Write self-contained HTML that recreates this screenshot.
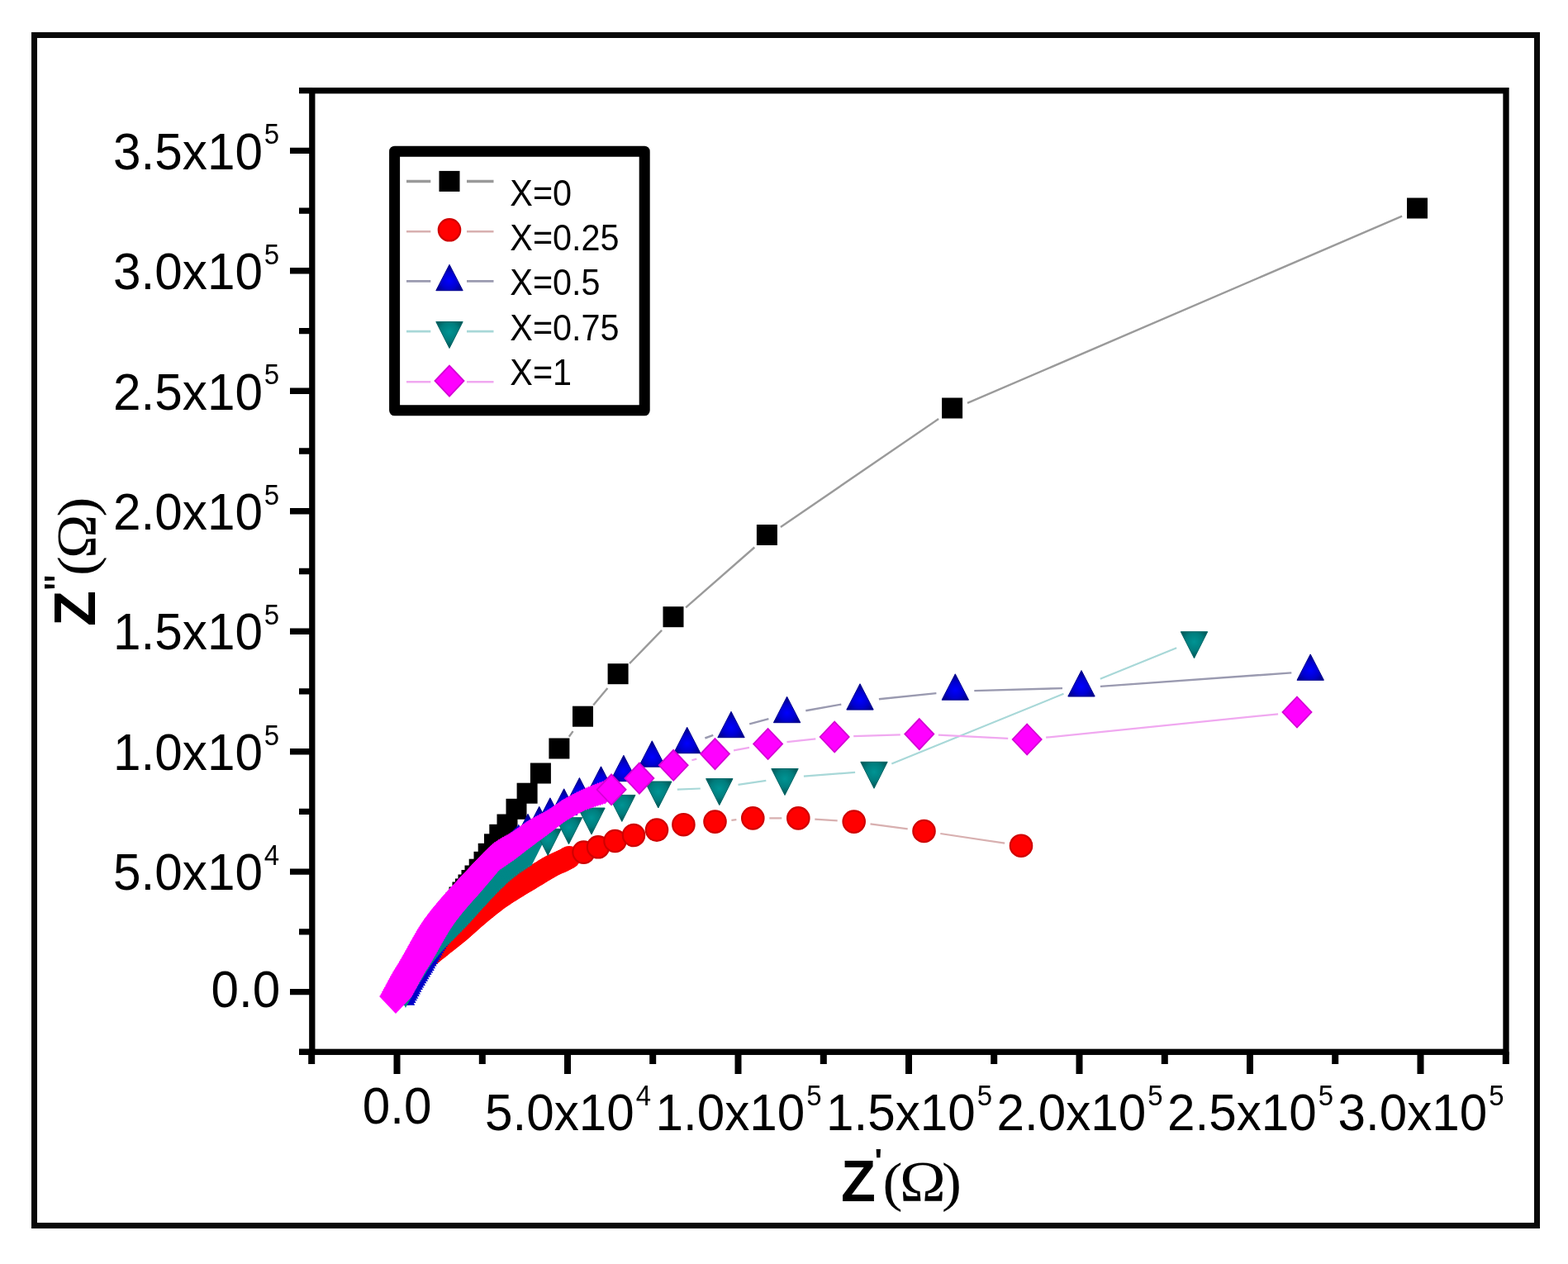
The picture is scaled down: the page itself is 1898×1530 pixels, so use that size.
<!DOCTYPE html>
<html><head><meta charset="utf-8"><style>
html,body{margin:0;padding:0;background:#fff;}
svg{display:block;}
.t{font-family:"Liberation Sans",Arial,sans-serif;font-size:63.4px;fill:#000;}
.s{font-size:34.7px;}
.lg{font-family:"Liberation Sans",Arial,sans-serif;font-size:44.5px;fill:#000;}
.tb{font-family:"Liberation Sans",Arial,sans-serif;font-size:70.8px;font-weight:bold;fill:#000;}
.pr{font-family:"Liberation Sans",Arial,sans-serif;font-size:40px;font-weight:bold;fill:#000;}
.sr{font-family:"Liberation Serif","Times New Roman",serif;font-weight:normal;font-size:68px;fill:#000;}
</style></head><body>
<svg width="1898" height="1530" viewBox="0 0 1898 1530">
<defs>
<radialGradient id="gb" cx="50%" cy="62%" r="55%"><stop offset="0" stop-color="#0000ff"/><stop offset="0.55" stop-color="#0000d0"/><stop offset="1" stop-color="#000088"/></radialGradient>
<radialGradient id="gt" cx="50%" cy="38%" r="55%"><stop offset="0" stop-color="#009494"/><stop offset="0.6" stop-color="#007d7d"/><stop offset="1" stop-color="#005a5a"/></radialGradient>
</defs>
<rect width="1898" height="1530" fill="#fff"/>
<rect x="41.5" y="42.5" width="1819" height="1441" fill="none" stroke="#080808" stroke-width="7"/>
<path d="M351 1200.6H377.8 M351 1055.1H377.8 M351 909.7H377.8 M351 764.2H377.8 M351 618.8H377.8 M351 473.3H377.8 M351 327.8H377.8 M351 182.4H377.8 M362 1273.3H377.8 M362 1127.9H377.8 M362 982.4H377.8 M362 836.9H377.8 M362 691.5H377.8 M362 546H377.8 M362 400.6H377.8 M362 255.1H377.8 M362 109.6H377.8" stroke="#000" stroke-width="7.4" fill="none"/>
<path d="M480.5 1273.3V1300 M687 1273.3V1300 M893.5 1273.3V1300 M1100 1273.3V1300 M1306.5 1273.3V1300 M1513 1273.3V1300 M1719.5 1273.3V1300 M377.2 1273.3V1288 M583.8 1273.3V1288 M790.2 1273.3V1288 M996.8 1273.3V1288 M1203.2 1273.3V1288 M1409.8 1273.3V1288 M1616.2 1273.3V1288 M1822.8 1273.3V1288" stroke="#000" stroke-width="8" fill="none"/>
<rect x="377.8" y="109.7" width="1445.2" height="1163.6" fill="none" stroke="#000" stroke-width="7.3"/>
<text transform="translate(338.1 204.6) scale(0.95 1)" text-anchor="end" class="t">3.5x10<tspan class="s" dx="2" dy="-30.4">5</tspan></text>
<text transform="translate(338.1 350) scale(0.95 1)" text-anchor="end" class="t">3.0x10<tspan class="s" dx="2" dy="-30.4">5</tspan></text>
<text transform="translate(338.1 495.5) scale(0.95 1)" text-anchor="end" class="t">2.5x10<tspan class="s" dx="2" dy="-30.4">5</tspan></text>
<text transform="translate(338.1 641) scale(0.95 1)" text-anchor="end" class="t">2.0x10<tspan class="s" dx="2" dy="-30.4">5</tspan></text>
<text transform="translate(338.1 786.4) scale(0.95 1)" text-anchor="end" class="t">1.5x10<tspan class="s" dx="2" dy="-30.4">5</tspan></text>
<text transform="translate(338.1 931.9) scale(0.95 1)" text-anchor="end" class="t">1.0x10<tspan class="s" dx="2" dy="-30.4">5</tspan></text>
<text transform="translate(338.1 1077.3) scale(0.95 1)" text-anchor="end" class="t">5.0x10<tspan class="s" dx="2" dy="-30.4">4</tspan></text>
<text transform="translate(339.3 1218.5) scale(0.95 1)" text-anchor="end" class="t">0.0</text>
<text transform="translate(480.7 1360.2) scale(0.95 1)" text-anchor="middle" class="t">0.0</text>
<text transform="translate(687.5 1368.4) scale(0.95 1)" text-anchor="middle" class="t">5.0x10<tspan class="s" dx="2" dy="-30.4">4</tspan></text>
<text transform="translate(894 1368.4) scale(0.95 1)" text-anchor="middle" class="t">1.0x10<tspan class="s" dx="2" dy="-30.4">5</tspan></text>
<text transform="translate(1100.5 1368.4) scale(0.95 1)" text-anchor="middle" class="t">1.5x10<tspan class="s" dx="2" dy="-30.4">5</tspan></text>
<text transform="translate(1307 1368.4) scale(0.95 1)" text-anchor="middle" class="t">2.0x10<tspan class="s" dx="2" dy="-30.4">5</tspan></text>
<text transform="translate(1513.5 1368.4) scale(0.95 1)" text-anchor="middle" class="t">2.5x10<tspan class="s" dx="2" dy="-30.4">5</tspan></text>
<text transform="translate(1720 1368.4) scale(0.95 1)" text-anchor="middle" class="t">3.0x10<tspan class="s" dx="2" dy="-30.4">5</tspan></text>
<text transform="translate(1018 1453.5) scale(0.969 1)" class="tb">Z</text>
<text transform="translate(1058.5 1418.9)" class="pr">'</text>
<text transform="translate(1068.45 1452.9) scale(1.1 1)" class="sr" style="font-size:65.2px">(</text>
<text transform="translate(1089.1 1453.5) scale(1.093 1)" class="sr" style="font-size:68.7px">Ω</text>
<text transform="translate(1140 1452.9) scale(1.1 1)" class="sr" style="font-size:65.2px">)</text>
<text transform="translate(115.2 757.9) rotate(-90)" class="tb" style="font-size:70.4px">Z</text>
<text transform="translate(86.9 714.8) rotate(-90) scale(1 1.22)" class="pr">''</text>
<text transform="translate(114.9 696.9) rotate(-90) scale(1.09 1)" class="sr" style="font-size:65.6px">(</text>
<text transform="translate(115.2 675.9) rotate(-90) scale(1.048 1)" class="sr" style="font-size:68.3px">Ω</text>
<text transform="translate(114.9 625.4) rotate(-90) scale(1.09 1)" class="sr" style="font-size:65.6px">)</text>
<path d="M688.8 891.7L693.6 885.1 M718.2 853.6L735.4 832.9 M762 803.1L801.1 762.9 M830.1 735.3L913.3 662.5 M944.9 638L1136.1 507.1 M1171 487.9L1697.1 261.7" stroke="#9a9a9a" stroke-width="2.4" fill="none"/>
<g fill="#000"><rect x="470.5" y="1191.5" width="25" height="25"/><rect x="475.5" y="1185.5" width="25" height="25"/><rect x="479.5" y="1178.5" width="25" height="25"/><rect x="483.5" y="1171.5" width="25" height="25"/><rect x="487.5" y="1164.5" width="25" height="25"/><rect x="491.5" y="1158.5" width="25" height="25"/><rect x="495.5" y="1151.5" width="25" height="25"/><rect x="499.5" y="1145.5" width="25" height="25"/><rect x="503.5" y="1138.5" width="25" height="25"/><rect x="507.5" y="1132.5" width="25" height="25"/><rect x="511.5" y="1125.5" width="25" height="25"/><rect x="515.5" y="1119.5" width="25" height="25"/><rect x="519.5" y="1112.5" width="25" height="25"/><rect x="523.5" y="1106.5" width="25" height="25"/><rect x="527.5" y="1099.5" width="25" height="25"/><rect x="531.5" y="1093.5" width="25" height="25"/><rect x="535.5" y="1086.5" width="25" height="25"/><rect x="539.5" y="1080.5" width="25" height="25"/><rect x="543.5" y="1073.5" width="25" height="25"/><rect x="547.5" y="1067.5" width="25" height="25"/><rect x="551" y="1063.5" width="25" height="25"/><rect x="554.5" y="1058.5" width="25" height="25"/><rect x="558.5" y="1053" width="25" height="25"/><rect x="562.5" y="1047.5" width="25" height="25"/><rect x="567.7" y="1039.7" width="25" height="25"/><rect x="573.5" y="1030.8" width="25" height="25"/><rect x="578.7" y="1020.8" width="25" height="25"/></g>
<g fill="#000"><rect x="586" y="1009.3" width="25" height="25"/><rect x="592.3" y="997.8" width="25" height="25"/><rect x="601.5" y="985.5" width="25" height="25"/><rect x="612.5" y="966.8" width="25" height="25"/><rect x="625.6" y="947.7" width="25" height="25"/><rect x="641.9" y="923.5" width="25" height="25"/><rect x="664.4" y="893.5" width="25" height="25"/><rect x="693" y="854.7" width="25" height="25"/><rect x="735.6" y="803.2" width="25" height="25"/><rect x="802.5" y="734.2" width="25" height="25"/><rect x="915.9" y="635" width="25" height="25"/><rect x="1140.1" y="481.5" width="25" height="25"/><rect x="1703" y="239.5" width="25" height="25"/></g>
<path d="M885.4 992.8L891.4 992.2 M931.3 990.4L946.3 990.4 M986.3 991.6L1013.7 993.4 M1053.5 997.3L1098.7 1003.3 M1138.3 1009L1216.2 1020.7" stroke="#d8b0b0" stroke-width="2.2" fill="none"/>
<g fill="#ff0000"><circle cx="483" cy="1203" r="13.7"/><circle cx="484.9" cy="1200.7" r="13.7"/><circle cx="486.8" cy="1198.4" r="13.7"/><circle cx="488.7" cy="1196" r="13.7"/><circle cx="490.6" cy="1193.7" r="13.7"/><circle cx="492.5" cy="1191.4" r="13.7"/><circle cx="494.5" cy="1189.1" r="13.7"/><circle cx="496.4" cy="1186.9" r="13.7"/><circle cx="498.4" cy="1184.6" r="13.7"/><circle cx="500.3" cy="1182.2" r="13.7"/><circle cx="502.1" cy="1179.9" r="13.7"/><circle cx="503.8" cy="1177.4" r="13.7"/><circle cx="505.5" cy="1174.9" r="13.7"/><circle cx="507.1" cy="1172.4" r="13.7"/><circle cx="508.7" cy="1169.8" r="13.7"/><circle cx="510.3" cy="1167.3" r="13.7"/><circle cx="512.1" cy="1164.9" r="13.7"/><circle cx="513.9" cy="1162.5" r="13.7"/><circle cx="515.9" cy="1160.3" r="13.7"/><circle cx="518" cy="1158.1" r="13.7"/><circle cx="520.2" cy="1156.1" r="13.7"/><circle cx="522.5" cy="1154.2" r="13.7"/><circle cx="524.8" cy="1152.3" r="13.7"/><circle cx="527.2" cy="1150.4" r="13.7"/><circle cx="529.6" cy="1148.6" r="13.7"/><circle cx="531.9" cy="1146.7" r="13.7"/><circle cx="534.2" cy="1144.8" r="13.7"/><circle cx="536.6" cy="1142.9" r="13.7"/><circle cx="538.9" cy="1141.1" r="13.7"/><circle cx="541.3" cy="1139.2" r="13.7"/><circle cx="543.6" cy="1137.3" r="13.7"/><circle cx="546" cy="1135.5" r="13.7"/><circle cx="548.3" cy="1133.6" r="13.7"/><circle cx="550.7" cy="1131.7" r="13.7"/><circle cx="553" cy="1129.9" r="13.7"/><circle cx="555.3" cy="1128" r="13.7"/><circle cx="557.6" cy="1126" r="13.7"/><circle cx="559.9" cy="1124.1" r="13.7"/><circle cx="562.1" cy="1122.1" r="13.7"/><circle cx="564.4" cy="1120.1" r="13.7"/><circle cx="566.6" cy="1118.1" r="13.7"/><circle cx="568.9" cy="1116.1" r="13.7"/><circle cx="571.1" cy="1114.1" r="13.7"/><circle cx="573.3" cy="1112.1" r="13.7"/><circle cx="575.6" cy="1110.1" r="13.7"/><circle cx="577.8" cy="1108.2" r="13.7"/><circle cx="580.1" cy="1106.2" r="13.7"/><circle cx="582.4" cy="1104.3" r="13.7"/><circle cx="584.8" cy="1102.4" r="13.7"/><circle cx="587.1" cy="1100.5" r="13.7"/><circle cx="589.4" cy="1098.6" r="13.7"/><circle cx="591.7" cy="1096.7" r="13.7"/><circle cx="594.1" cy="1094.8" r="13.7"/><circle cx="596.5" cy="1093" r="13.7"/><circle cx="598.8" cy="1091.2" r="13.7"/><circle cx="601.2" cy="1089.4" r="13.7"/><circle cx="603.7" cy="1087.6" r="13.7"/><circle cx="606.1" cy="1085.9" r="13.7"/><circle cx="608.6" cy="1084.2" r="13.7"/><circle cx="611.1" cy="1082.5" r="13.7"/><circle cx="613.6" cy="1080.9" r="13.7"/><circle cx="616.1" cy="1079.3" r="13.7"/><circle cx="618.7" cy="1077.7" r="13.7"/><circle cx="621.2" cy="1076.1" r="13.7"/><circle cx="623.8" cy="1074.5" r="13.7"/><circle cx="626.3" cy="1073" r="13.7"/><circle cx="628.9" cy="1071.4" r="13.7"/><circle cx="631.4" cy="1069.8" r="13.7"/><circle cx="634" cy="1068.3" r="13.7"/><circle cx="636.6" cy="1066.7" r="13.7"/><circle cx="639.2" cy="1065.2" r="13.7"/><circle cx="641.7" cy="1063.7" r="13.7"/><circle cx="644.3" cy="1062.1" r="13.7"/><circle cx="646.9" cy="1060.6" r="13.7"/><circle cx="649.5" cy="1059.1" r="13.7"/><circle cx="652" cy="1057.5" r="13.7"/><circle cx="654.6" cy="1055.9" r="13.7"/><circle cx="657.2" cy="1054.4" r="13.7"/><circle cx="659.7" cy="1052.8" r="13.7"/><circle cx="662.3" cy="1051.3" r="13.7"/><circle cx="664.9" cy="1049.8" r="13.7"/><circle cx="667.5" cy="1048.3" r="13.7"/><circle cx="670.2" cy="1046.9" r="13.7"/><circle cx="672.9" cy="1045.6" r="13.7"/><circle cx="675.6" cy="1044.4" r="13.7"/><circle cx="678.4" cy="1043.2" r="13.7"/><circle cx="681.1" cy="1042" r="13.7"/><circle cx="683.8" cy="1040.6" r="13.7"/><circle cx="686.4" cy="1039.2" r="13.7"/><circle cx="689" cy="1037.7" r="13.7"/></g>
<g fill="#ff0000" stroke="#d00000" stroke-width="2.2"><circle cx="706.5" cy="1031.6" r="13.2"/><circle cx="724" cy="1025.3" r="13.2"/><circle cx="744.5" cy="1018" r="13.2"/><circle cx="767" cy="1011" r="13.2"/><circle cx="795" cy="1004.6" r="13.2"/><circle cx="827.4" cy="998.2" r="13.2"/><circle cx="865.5" cy="994.6" r="13.2"/><circle cx="911.3" cy="990.4" r="13.2"/><circle cx="966.3" cy="990.4" r="13.2"/><circle cx="1033.7" cy="994.6" r="13.2"/><circle cx="1118.5" cy="1006" r="13.2"/><circle cx="1236" cy="1023.7" r="13.2"/></g>
<path d="M853.4 893.5L863.3 889.9 M907.2 876.3L930.4 870.1 M975.3 860.2L1018.3 852.6 M1063.9 846.2L1133.4 839.1 M1179.3 836.1L1286 833.1 M1331.9 830.9L1563.3 814.4" stroke="#9a9ab0" stroke-width="2.4" fill="none"/>
<g fill="#0000c8"><path d="M486 1185.3L502.2 1216.7H469.8Z"/><path d="M487.3 1182.6L503.5 1214H471.1Z"/><path d="M488.7 1179.9L504.9 1211.3H472.5Z"/><path d="M490.1 1177.3L506.3 1208.7H473.9Z"/><path d="M491.5 1174.6L507.7 1206H475.3Z"/><path d="M492.8 1172L509 1203.4H476.6Z"/><path d="M494.2 1169.3L510.4 1200.7H478Z"/><path d="M495.7 1166.7L511.9 1198.1H479.5Z"/><path d="M497.1 1164L513.3 1195.4H480.9Z"/><path d="M498.7 1161.5L514.9 1192.9H482.5Z"/><path d="M500.2 1158.9L516.4 1190.3H484Z"/><path d="M501.8 1156.3L518 1187.7H485.6Z"/><path d="M503.3 1153.8L519.5 1185.2H487.1Z"/><path d="M504.9 1151.2L521.1 1182.6H488.7Z"/><path d="M506.4 1148.6L522.6 1180H490.2Z"/><path d="M508 1146.1L524.2 1177.5H491.8Z"/><path d="M509.5 1143.5L525.7 1174.9H493.3Z"/><path d="M510.9 1140.8L527.1 1172.2H494.7Z"/><path d="M512.4 1138.2L528.6 1169.6H496.2Z"/><path d="M513.8 1135.6L530 1167H497.6Z"/><path d="M515.2 1132.9L531.4 1164.3H499Z"/><path d="M516.7 1130.3L532.9 1161.7H500.5Z"/><path d="M518.1 1127.7L534.3 1159.1H501.9Z"/><path d="M519.6 1125L535.8 1156.4H503.4Z"/><path d="M521.1 1122.4L537.3 1153.8H504.9Z"/><path d="M522.6 1119.8L538.8 1151.2H506.4Z"/><path d="M524.1 1117.3L540.3 1148.7H507.9Z"/><path d="M525.6 1114.7L541.8 1146.1H509.4Z"/><path d="M527.1 1112.1L543.3 1143.5H510.9Z"/><path d="M528.7 1109.5L544.9 1140.9H512.5Z"/><path d="M530.3 1107L546.5 1138.4H514.1Z"/><path d="M531.9 1104.5L548.1 1135.9H515.7Z"/><path d="M533.5 1101.9L549.7 1133.3H517.3Z"/><path d="M535.2 1099.5L551.4 1130.9H519Z"/><path d="M536.9 1097L553.1 1128.4H520.7Z"/><path d="M538.6 1094.5L554.8 1125.9H522.4Z"/><path d="M540.3 1092.1L556.5 1123.5H524.1Z"/><path d="M542.1 1089.6L558.3 1121H525.9Z"/><path d="M543.9 1087.2L560.1 1118.6H527.7Z"/><path d="M545.6 1084.8L561.8 1116.2H529.4Z"/><path d="M547.4 1082.4L563.6 1113.8H531.2Z"/><path d="M549.3 1080L565.5 1111.4H533.1Z"/><path d="M551.1 1077.6L567.3 1109H534.9Z"/><path d="M553 1075.3L569.2 1106.7H536.8Z"/><path d="M554.8 1072.9L571 1104.3H538.6Z"/><path d="M556.7 1070.6L572.9 1102H540.5Z"/><path d="M558.6 1068.3L574.8 1099.7H542.4Z"/><path d="M560.6 1066L576.8 1097.4H544.4Z"/><path d="M562.5 1063.7L578.7 1095.1H546.3Z"/><path d="M564.5 1061.4L580.7 1092.8H548.3Z"/><path d="M566.4 1059.2L582.6 1090.6H550.2Z"/><path d="M568.4 1056.9L584.6 1088.3H552.2Z"/><path d="M570.4 1054.7L586.6 1086.1H554.2Z"/><path d="M572.4 1052.5L588.6 1083.9H556.2Z"/><path d="M574.5 1050.2L590.7 1081.6H558.3Z"/><path d="M576.5 1048L592.7 1079.4H560.3Z"/><path d="M578.5 1045.9L594.7 1077.3H562.3Z"/><path d="M580.6 1043.7L596.8 1075.1H564.4Z"/><path d="M582.7 1041.5L598.9 1072.9H566.5Z"/><path d="M584.8 1039.4L601 1070.8H568.6Z"/><path d="M586.9 1037.2L603.1 1068.6H570.7Z"/><path d="M589 1035.1L605.2 1066.5H572.8Z"/><path d="M591.1 1033L607.3 1064.4H574.9Z"/><path d="M593.3 1030.9L609.5 1062.3H577.1Z"/><path d="M595.4 1028.8L611.6 1060.2H579.2Z"/><path d="M597.6 1026.7L613.8 1058.1H581.4Z"/><path d="M599.7 1024.6L615.9 1056H583.5Z"/><path d="M601.9 1022.6L618.1 1054H585.7Z"/><path d="M604.1 1020.5L620.3 1051.9H587.9Z"/><path d="M606.3 1018.5L622.5 1049.9H590.1Z"/><path d="M608.5 1016.5L624.7 1047.9H592.3Z"/><path d="M610.7 1014.4L626.9 1045.8H594.5Z"/><path d="M612.9 1012.4L629.1 1043.8H596.7Z"/><path d="M615.1 1010.3L631.3 1041.7H598.9Z"/><path d="M617.2 1008.2L633.4 1039.6H601Z"/><path d="M619.3 1006L635.5 1037.4H603.1Z"/><path d="M621.4 1003.9L637.6 1035.3H605.2Z"/><path d="M623.6 1001.8L639.8 1033.2H607.4Z"/><path d="M625.7 999.7L641.9 1031.1H609.5Z"/><path d="M627.8 997.5L644 1028.9H611.6Z"/></g>
<g fill="url(#gb)" stroke="#000090" stroke-width="1"><path d="M639 985.3L655.2 1016.7H622.8Z"/><path d="M652.7 976.3L668.9 1007.7H636.5Z"/><path d="M665.9 965.8L682.1 997.2H649.7Z"/><path d="M682.7 954.8L698.9 986.2H666.5Z"/><path d="M701.4 941.5L717.6 972.9H685.2Z"/><path d="M727.5 927.8L743.7 959.2H711.3Z"/><path d="M754.9 914.3L771.1 945.7H738.7Z"/><path d="M789.3 896.8L805.5 928.2H773.1Z"/><path d="M831.7 880.3L847.9 911.7H815.5Z"/><path d="M885 861.3L901.2 892.7H868.8Z"/><path d="M952.6 843.3L968.8 874.7H936.4Z"/><path d="M1041 827.7L1057.2 859.1H1024.8Z"/><path d="M1156.3 815.8L1172.5 847.2H1140.1Z"/><path d="M1309 811.6L1325.2 843H1292.8Z"/><path d="M1586.2 791.9L1602.4 823.3H1570Z"/></g>
<path d="M819.8 955.7L847.8 954.5 M893.5 949.9L927.3 944.8 M972.9 939.6L1035.1 934.8 M1079.3 924.4L1287.5 839.8 M1331.8 821.7L1424.2 784.2" stroke="#a8d8d8" stroke-width="2.2" fill="none"/>
<g fill="#008787"><path d="M474.8 1188H507.2L491 1220Z"/><path d="M476.1 1185.3H508.5L492.3 1217.3Z"/><path d="M477.5 1182.6H509.9L493.7 1214.6Z"/><path d="M478.9 1180H511.3L495.1 1212Z"/><path d="M480.3 1177.4H512.7L496.5 1209.4Z"/><path d="M481.8 1174.7H514.2L498 1206.7Z"/><path d="M483.3 1172.1H515.7L499.5 1204.1Z"/><path d="M484.8 1169.5H517.2L501 1201.5Z"/><path d="M486.3 1166.9H518.7L502.5 1198.9Z"/><path d="M487.8 1164.3H520.2L504 1196.3Z"/><path d="M489.4 1161.8H521.8L505.6 1193.8Z"/><path d="M490.9 1159.2H523.3L507.1 1191.2Z"/><path d="M492.5 1156.7H524.9L508.7 1188.7Z"/><path d="M494.2 1154.2H526.6L510.4 1186.2Z"/><path d="M495.8 1151.6H528.2L512 1183.6Z"/><path d="M497.4 1149.1H529.8L513.6 1181.1Z"/><path d="M498.9 1146.5H531.3L515.1 1178.5Z"/><path d="M500.5 1144H532.9L516.7 1176Z"/><path d="M502.1 1141.4H534.5L518.3 1173.4Z"/><path d="M503.7 1138.9H536.1L519.9 1170.9Z"/><path d="M505.5 1136.5H537.9L521.7 1168.5Z"/><path d="M507.3 1134.1H539.7L523.5 1166.1Z"/><path d="M509.1 1131.7H541.5L525.3 1163.7Z"/><path d="M511 1129.4H543.4L527.2 1161.4Z"/><path d="M512.9 1127.1H545.3L529.1 1159.1Z"/><path d="M514.8 1124.8H547.2L531 1156.8Z"/><path d="M516.8 1122.5H549.2L533 1154.5Z"/><path d="M518.8 1120.3H551.2L535 1152.3Z"/><path d="M520.8 1118H553.2L537 1150Z"/><path d="M522.8 1115.8H555.2L539 1147.8Z"/><path d="M524.9 1113.7H557.3L541.1 1145.7Z"/><path d="M527.1 1111.6H559.5L543.3 1143.6Z"/><path d="M529.2 1109.5H561.6L545.4 1141.5Z"/><path d="M531.4 1107.4H563.8L547.6 1139.4Z"/><path d="M533.5 1105.3H565.9L549.7 1137.3Z"/><path d="M535.6 1103.2H568L551.8 1135.2Z"/><path d="M537.7 1101H570.1L553.9 1133Z"/><path d="M539.8 1098.9H572.2L556 1130.9Z"/><path d="M541.9 1096.7H574.3L558.1 1128.7Z"/><path d="M544 1094.6H576.4L560.2 1126.6Z"/><path d="M546.1 1092.4H578.5L562.3 1124.4Z"/><path d="M548.2 1090.3H580.6L564.4 1122.3Z"/><path d="M550.2 1088.1H582.6L566.4 1120.1Z"/><path d="M552.3 1085.9H584.7L568.5 1117.9Z"/><path d="M554.3 1083.6H586.7L570.5 1115.6Z"/><path d="M556.3 1081.4H588.7L572.5 1113.4Z"/><path d="M558.3 1079.2H590.7L574.5 1111.2Z"/><path d="M560.3 1076.9H592.7L576.5 1108.9Z"/><path d="M562.3 1074.7H594.7L578.5 1106.7Z"/><path d="M564.3 1072.5H596.7L580.5 1104.5Z"/><path d="M566.3 1070.3H598.7L582.5 1102.3Z"/><path d="M568.3 1068.1H600.7L584.5 1100.1Z"/><path d="M570.4 1065.9H602.8L586.6 1097.9Z"/><path d="M572.4 1063.7H604.8L588.6 1095.7Z"/><path d="M574.5 1061.5H606.9L590.7 1093.5Z"/><path d="M576.5 1059.3H608.9L592.7 1091.3Z"/><path d="M578.6 1057.1H611L594.8 1089.1Z"/><path d="M580.7 1054.9H613.1L596.9 1086.9Z"/><path d="M582.7 1052.8H615.1L598.9 1084.8Z"/><path d="M584.8 1050.6H617.2L601 1082.6Z"/><path d="M586.9 1048.5H619.3L603.1 1080.5Z"/><path d="M589 1046.3H621.4L605.2 1078.3Z"/><path d="M591.2 1044.3H623.6L607.4 1076.3Z"/><path d="M593.4 1042.2H625.8L609.6 1074.2Z"/><path d="M595.5 1040.1H627.9L611.7 1072.1Z"/><path d="M597.8 1038.1H630.2L614 1070.1Z"/><path d="M600 1036.1H632.4L616.2 1068.1Z"/><path d="M602.3 1034.1H634.7L618.5 1066.1Z"/><path d="M604.6 1032.2H637L620.8 1064.2Z"/><path d="M607 1030.4H639.4L623.2 1062.4Z"/><path d="M609.4 1028.6H641.8L625.6 1060.6Z"/><path d="M611.8 1026.8H644.2L628 1058.8Z"/><path d="M614.2 1025.1H646.6L630.4 1057.1Z"/><path d="M616.7 1023.4H649.1L632.9 1055.4Z"/><path d="M619.2 1021.7H651.6L635.4 1053.7Z"/><path d="M621.7 1020.1H654.1L637.9 1052.1Z"/><path d="M624.2 1018.5H656.6L640.4 1050.5Z"/><path d="M626.7 1016.8H659.1L642.9 1048.8Z"/></g>
<g fill="url(#gt)" stroke="#006565" stroke-width="1"><path d="M647 1003.4H679.4L663.2 1035.4Z"/><path d="M672.3 989.7H704.7L688.5 1021.7Z"/><path d="M699.8 978H732.2L716 1010Z"/><path d="M736.6 962.4H769L752.8 994.4Z"/><path d="M780.6 946H813L796.8 978Z"/><path d="M854.6 942.6H887L870.8 974.6Z"/><path d="M933.8 930.5H966.2L950 962.5Z"/><path d="M1041.8 922.3H1074.2L1058 954.3Z"/><path d="M1429.3 764.7H1461.7L1445.5 796.7Z"/></g>
<path d="M837.4 920.3L843.3 918.6 M888.1 908.3L907 904.8 M952.5 898.1L987.3 894.4 M1033.2 891.2L1089.8 889.4 M1135.8 889.7L1220.2 893.9 M1266.1 892.7L1547.1 864.3" stroke="#f0a8f0" stroke-width="2.2" fill="none"/>
<g fill="#ff00ff"><path d="M479 1184.9L498.9 1206L479 1227.1L459.1 1206Z"/><path d="M480.5 1182.3L500.5 1203.4L480.5 1224.5L460.6 1203.4Z"/><path d="M482 1179.7L501.9 1200.8L482 1221.9L462 1200.8Z"/><path d="M483.4 1177.1L503.3 1198.1L483.4 1219.2L463.4 1198.1Z"/><path d="M484.8 1174.4L504.8 1195.5L484.8 1216.6L464.9 1195.5Z"/><path d="M486.2 1171.8L506.2 1192.8L486.2 1213.9L466.3 1192.8Z"/><path d="M487.6 1169.1L507.6 1190.2L487.6 1211.3L467.7 1190.2Z"/><path d="M489 1166.5L509 1187.6L489 1208.6L469.1 1187.6Z"/><path d="M490.5 1163.8L510.4 1184.9L490.5 1206L470.5 1184.9Z"/><path d="M491.9 1161.2L511.9 1182.3L491.9 1203.4L471.9 1182.3Z"/><path d="M493.4 1158.6L513.4 1179.7L493.4 1200.8L473.4 1179.7Z"/><path d="M494.9 1156L514.9 1177.1L494.9 1198.2L474.9 1177.1Z"/><path d="M496.4 1153.4L516.4 1174.5L496.4 1195.6L476.5 1174.5Z"/><path d="M498 1150.8L518 1172L498 1193.1L478 1172Z"/><path d="M499.6 1148.3L519.6 1169.4L499.6 1190.6L479.6 1169.4Z"/><path d="M501.2 1145.7L521.2 1166.9L501.2 1188L481.2 1166.9Z"/><path d="M502.7 1143.1L522.8 1164.3L502.7 1185.5L482.7 1164.3Z"/><path d="M504.3 1140.5L524.3 1161.7L504.3 1182.9L484.2 1161.7Z"/><path d="M505.8 1137.9L525.8 1159.1L505.8 1180.3L485.8 1159.1Z"/><path d="M507.3 1135.3L527.3 1156.5L507.3 1177.7L487.2 1156.5Z"/><path d="M508.8 1132.7L528.8 1153.9L508.8 1175.1L488.7 1153.9Z"/><path d="M510.2 1130.1L530.3 1151.3L510.2 1172.5L490.1 1151.3Z"/><path d="M511.6 1127.4L531.7 1148.7L511.6 1169.9L491.6 1148.7Z"/><path d="M513.1 1124.8L533.2 1146L513.1 1167.3L493 1146Z"/><path d="M514.6 1122.2L534.7 1143.4L514.6 1164.7L494.5 1143.4Z"/><path d="M516 1119.6L536.1 1140.8L516 1162.1L495.9 1140.8Z"/><path d="M517.5 1116.9L537.6 1138.2L517.5 1159.5L497.4 1138.2Z"/><path d="M519 1114.3L539.1 1135.6L519 1156.9L498.9 1135.6Z"/><path d="M520.5 1111.7L540.6 1133L520.5 1154.3L500.4 1133Z"/><path d="M522 1109.1L542.1 1130.4L522 1151.7L501.8 1130.4Z"/><path d="M523.5 1106.5L543.7 1127.8L523.5 1149.1L503.3 1127.8Z"/><path d="M525.1 1103.9L545.3 1125.2L525.1 1146.6L504.8 1125.2Z"/><path d="M526.6 1101.3L546.9 1122.7L526.6 1144.1L506.4 1122.7Z"/><path d="M528.3 1098.7L548.6 1120.2L528.3 1141.6L508 1120.2Z"/><path d="M530 1096.2L550.3 1117.7L530 1139.2L509.7 1117.7Z"/><path d="M531.7 1093.8L552 1115.2L531.7 1136.7L511.4 1115.2Z"/><path d="M533.5 1091.3L553.8 1112.8L533.5 1134.4L513.1 1112.8Z"/><path d="M535.3 1088.9L555.7 1110.4L535.3 1132L514.9 1110.4Z"/><path d="M537.1 1086.4L557.5 1108L537.1 1129.6L516.7 1108Z"/><path d="M538.9 1084L559.4 1105.7L538.9 1127.3L518.5 1105.7Z"/><path d="M540.8 1081.7L561.3 1103.3L540.8 1125L520.3 1103.3Z"/><path d="M542.7 1079.3L563.2 1101L542.7 1122.7L522.2 1101Z"/><path d="M544.6 1077L565.1 1098.7L544.6 1120.4L524.1 1098.7Z"/><path d="M546.5 1074.7L567.1 1096.4L546.5 1118.1L526 1096.4Z"/><path d="M548.5 1072.4L569 1094.1L548.5 1115.8L527.9 1094.1Z"/><path d="M550.5 1070.1L571 1091.8L550.5 1113.6L529.9 1091.8Z"/><path d="M552.4 1067.8L573 1089.6L552.4 1111.3L531.9 1089.6Z"/><path d="M554.4 1065.6L575 1087.3L554.4 1109.1L533.8 1087.3Z"/><path d="M556.4 1063.3L577.1 1085.1L556.4 1106.9L535.8 1085.1Z"/><path d="M558.4 1061.1L579.1 1082.9L558.4 1104.7L537.8 1082.9Z"/><path d="M560.4 1058.8L581.1 1080.6L560.4 1102.4L539.8 1080.6Z"/><path d="M562.4 1056.7L583 1078.4L562.4 1100.1L541.9 1078.4Z"/><path d="M564.4 1054.5L584.9 1076.2L564.4 1097.8L544 1076.2Z"/><path d="M566.4 1052.4L586.8 1073.9L566.4 1095.4L546.1 1073.9Z"/><path d="M568.4 1050.2L588.7 1071.7L568.4 1093.1L548.1 1071.7Z"/><path d="M570.4 1048.1L590.6 1069.4L570.4 1090.8L550.2 1069.4Z"/><path d="M572.4 1046L592.5 1067.2L572.4 1088.5L552.3 1067.2Z"/><path d="M574.4 1043.8L594.5 1065L574.4 1086.2L554.4 1065Z"/><path d="M576.5 1041.7L596.4 1062.8L576.5 1083.8L556.5 1062.8Z"/><path d="M578.5 1039.6L598.3 1060.6L578.5 1081.5L558.6 1060.6Z"/><path d="M580.5 1037.5L600.2 1058.3L580.5 1079.2L560.8 1058.3Z"/><path d="M582.5 1035.4L602.1 1056.1L582.5 1076.8L562.9 1056.1Z"/><path d="M584.4 1033.2L603.9 1053.8L584.4 1074.4L565 1053.8Z"/><path d="M586.4 1031.1L605.7 1051.5L586.4 1072L567.1 1051.5Z"/><path d="M588.4 1029L607.6 1049.3L588.4 1069.6L569.2 1049.3Z"/><path d="M590.4 1026.9L609.4 1047.1L590.4 1067.2L571.3 1047.1Z"/><path d="M592.4 1024.9L611.3 1044.9L592.4 1064.8L573.5 1044.9Z"/><path d="M594.5 1022.9L613.3 1042.7L594.5 1062.5L575.8 1042.7Z"/><path d="M596.7 1021L615.3 1040.6L596.7 1060.3L578.1 1040.6Z"/><path d="M598.9 1019.1L617.4 1038.6L598.9 1058.1L580.5 1038.6Z"/><path d="M601.3 1017.4L619.6 1036.8L601.3 1056.1L583 1036.8Z"/><path d="M603.7 1015.8L621.9 1035L603.7 1054.2L585.5 1035Z"/><path d="M606.2 1014.2L624.3 1033.3L606.2 1052.4L588.1 1033.3Z"/><path d="M608.7 1012.8L626.7 1031.7L608.7 1050.7L590.8 1031.7Z"/><path d="M611.3 1011.3L629.1 1030.2L611.3 1049L593.5 1030.2Z"/><path d="M613.8 1009.9L631.5 1028.6L613.8 1047.3L596.2 1028.6Z"/><path d="M616.4 1008.5L633.9 1027L616.4 1045.6L598.8 1027Z"/><path d="M618.9 1007L636.4 1025.4L618.9 1043.8L601.5 1025.4Z"/><path d="M621.4 1005.4L638.7 1023.7L621.4 1042L604.1 1023.7Z"/><path d="M623.8 1003.8L641.1 1022L623.8 1040.2L606.6 1022Z"/><path d="M626.3 1002.1L643.4 1020.2L626.3 1038.3L609.1 1020.2Z"/><path d="M628.7 1000.4L645.8 1018.4L628.7 1036.5L611.6 1018.4Z"/><path d="M631.1 998.7L648.1 1016.6L631.1 1034.6L614.1 1016.6Z"/><path d="M633.5 997L650.4 1014.8L633.5 1032.7L616.6 1014.8Z"/><path d="M635.9 995.3L652.7 1013L635.9 1030.8L619.1 1013Z"/><path d="M638.3 993.6L655.1 1011.3L638.3 1029L621.6 1011.3Z"/><path d="M640.8 991.9L657.4 1009.6L640.8 1027.2L624.1 1009.6Z"/><path d="M643.3 990.4L659.8 1007.9L643.3 1025.3L626.8 1007.9Z"/><path d="M645.8 989L662 1006.2L645.8 1023.4L629.5 1006.2Z"/><path d="M648.3 987.7L664.3 1004.6L648.3 1021.5L632.3 1004.6Z"/><path d="M650.8 986.4L666.6 1003L650.8 1019.6L635.1 1003Z"/><path d="M653.4 985.1L668.9 1001.4L653.4 1017.8L637.9 1001.4Z"/><path d="M655.9 983.7L671.2 999.8L655.9 1015.9L640.7 999.8Z"/><path d="M658.5 982.4L673.5 998.3L658.5 1014.1L643.5 998.3Z"/><path d="M661 981.1L675.7 996.6L661 1012.2L646.3 996.6Z"/><path d="M663.5 979.6L678 995L663.5 1010.3L649 995Z"/><path d="M666 978L680.4 993.2L666 1008.5L651.6 993.2Z"/><path d="M668.4 976.4L682.7 991.5L668.4 1006.6L654.1 991.5Z"/><path d="M670.8 974.7L685 989.7L670.8 1004.7L656.6 989.7Z"/><path d="M673.2 973L687.3 987.9L673.2 1002.8L659.1 987.9Z"/><path d="M675.6 971.4L689.6 986.2L675.6 1001L661.6 986.2Z"/><path d="M678.1 969.7L692 984.4L678.1 999.1L664.2 984.4Z"/><path d="M680.5 968.1L694.3 982.7L680.5 997.3L666.7 982.7Z"/><path d="M683 966.6L696.7 981L683 995.5L669.3 981Z"/><path d="M685.6 965L699.2 979.4L685.6 993.8L672 979.4Z"/><path d="M688.2 963.6L701.7 977.9L688.2 992.2L674.6 977.9Z"/><path d="M690.8 962.2L704.2 976.4L690.8 990.7L677.3 976.4Z"/><path d="M693.4 960.8L706.8 975L693.4 989.2L680 975Z"/><path d="M696 959.5L709.4 973.6L696 987.7L682.7 973.6Z"/><path d="M698.7 958.1L712 972.2L698.7 986.2L685.4 972.2Z"/><path d="M701.4 956.8L714.6 970.8L701.4 984.8L688.2 970.8Z"/><path d="M704 955.6L717.2 969.5L704 983.4L690.9 969.5Z"/><path d="M706.7 954.2L719.9 968.2L706.7 982.1L693.6 968.2Z"/><path d="M709.5 953L722.7 966.9L709.5 980.9L696.3 966.9Z"/><path d="M712.3 951.8L725.6 965.9L712.3 979.9L699 965.9Z"/><path d="M715.1 950.7L728.5 964.8L715.1 979L701.7 964.8Z"/><path d="M717.9 949.6L731.3 963.8L717.9 978L704.5 963.8Z"/><path d="M720.7 948.5L734.2 962.7L720.7 977L707.2 962.7Z"/><path d="M723.5 947.3L737.1 961.7L723.5 976.1L710 961.7Z"/><path d="M726.4 946.2L740.1 960.7L726.4 975.2L712.7 960.7Z"/><path d="M729.2 945.2L743 959.7L729.2 974.3L715.4 959.7Z"/><path d="M732.1 944.1L746 958.8L732.1 973.5L718.2 958.8Z"/></g>
<g fill="#ff00ff" stroke="#d400d4" stroke-width="1.8"><path d="M740.1 937.3L757.6 955.8L740.1 974.3L722.6 955.8Z"/><path d="M773.9 923.6L791.4 942.1L773.9 960.6L756.4 942.1Z"/><path d="M815.2 907.8L832.7 926.3L815.2 944.8L797.7 926.3Z"/><path d="M865.5 894.1L883 912.6L865.5 931.1L848 912.6Z"/><path d="M929.6 882L947.1 900.5L929.6 919L912.1 900.5Z"/><path d="M1010.2 873.5L1027.7 892L1010.2 910.5L992.7 892Z"/><path d="M1112.8 870.1L1130.3 888.6L1112.8 907.1L1095.3 888.6Z"/><path d="M1243.2 876.5L1260.7 895L1243.2 913.5L1225.7 895Z"/><path d="M1570 843.5L1587.5 862L1570 880.5L1552.5 862Z"/></g>
<rect x="477.6" y="183.2" width="302.6" height="313.6" fill="#fff" stroke="#000" stroke-width="13" stroke-linejoin="round"/>
<path d="M492 219.5H521.3M565 219.5H597.5" stroke="#9a9a9a" stroke-width="3.6" fill="none"/>
<g fill="#000"><rect x="531.5" y="206.9" width="25" height="25"/></g>
<text transform="translate(617.3 248.5) scale(0.93 1)" class="lg">X=0</text>
<path d="M492 280.3H521.3M565 280.3H597.5" stroke="#d8b0b0" stroke-width="2.6" fill="none"/>
<g fill="#ff0000" stroke="#d00000" stroke-width="2.2"><circle cx="544" cy="278.3" r="13.2"/></g>
<text transform="translate(617.3 302.9) scale(0.93 1)" class="lg">X=0.25</text>
<path d="M492 340.4H521.3M565 340.4H597.5" stroke="#9a9ab0" stroke-width="2.6" fill="none"/>
<g fill="url(#gb)" stroke="#000090" stroke-width="1"><path d="M544 320.3L560.2 351.7H527.8Z"/></g>
<text transform="translate(617.3 357.3) scale(0.93 1)" class="lg">X=0.5</text>
<path d="M492 401.1H521.3M565 401.1H597.5" stroke="#a8d8d8" stroke-width="2.6" fill="none"/>
<g fill="url(#gt)" stroke="#006565" stroke-width="1"><path d="M527.8 389.5H560.2L544 421.5Z"/></g>
<text transform="translate(617.3 411.7) scale(0.93 1)" class="lg">X=0.75</text>
<path d="M492 462.2H521.3M565 462.2H597.5" stroke="#f0a8f0" stroke-width="2.6" fill="none"/>
<g fill="#ff00ff" stroke="#d400d4" stroke-width="1.8"><path d="M544 442.6L561.5 461.1L544 479.6L526.5 461.1Z"/></g>
<text transform="translate(617.3 465.5) scale(0.93 1)" class="lg">X=1</text>
</svg>
</body></html>
